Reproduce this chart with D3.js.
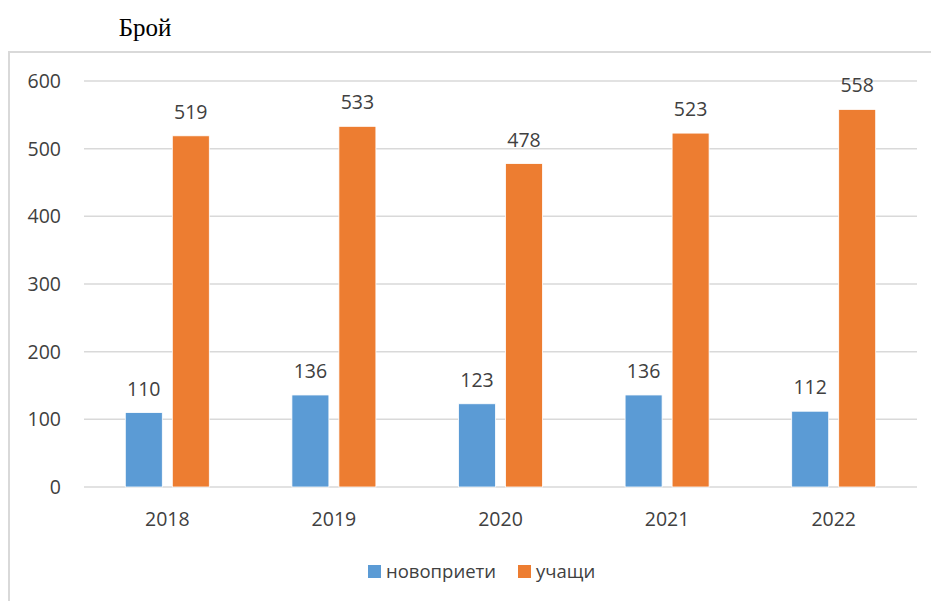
<!DOCTYPE html>
<html>
<head>
<meta charset="utf-8">
<script src="https://cdn.jsdelivr.net/npm/d3@7"></script>
<style>
  body { margin: 0; background: #fff; }
  text { font-family: "Open Sans", sans-serif; fill: #404040; }
</style>
</head>
<body>
<script>
var years = ["2018", "2019", "2020", "2021", "2022"];
var newcomers = [110, 136, 123, 136, 112];
var students = [519, 533, 478, 523, 558];
var seriesNames = ["новоприети", "учащи"];
var yTicks = [0, 100, 200, 300, 400, 500, 600];

const w = 931, h = 601;
const colors = ["#5b9bd5", "#ed7d31"];

const svg = d3.select("body")
              .append("svg")
              .attr("width", w)
              .attr("height", h);

// frame of the chart area
svg.append("path")
   .attr("d", "M9,601 L9,52 L931,52")
   .attr("fill", "none")
   .attr("stroke", "#d9d9d9")
   .attr("stroke-width", 2);

svg.append("text")
   .text("Брой")
   .attr("x", 145)
   .attr("y", 36)
   .attr("text-anchor", "middle")
   .style("font-family", "'Liberation Serif', serif")
   .style("font-size", "25px")
   .style("fill", "#000");

const xScale = d3.scaleBand()
                 .domain(years)
                 .range([84, 917]);

const yScale = d3.scaleLinear()
                 .domain([0, 600])
                 .range([487, 81]);

// gridlines
svg.append("g")
   .selectAll("line")
   .data(yTicks)
   .enter()
   .append("line")
   .attr("x1", 84)
   .attr("x2", 917)
   .attr("y1", d => yScale(d))
   .attr("y2", d => yScale(d))
   .attr("stroke", "#d9d9d9")
   .attr("stroke-width", 1.5);

// y axis labels
svg.append("g")
   .selectAll("text")
   .data(yTicks)
   .enter()
   .append("text")
   .text(d => d)
   .attr("x", 61)
   .attr("y", d => yScale(d) + 7)
   .attr("text-anchor", "end")
   .style("font-size", "19.5px");

// x axis labels
svg.append("g")
   .selectAll("text")
   .data(years)
   .enter()
   .append("text")
   .text(d => d)
   .attr("x", d => xScale(d) + xScale.bandwidth() / 2)
   .attr("y", 526)
   .attr("text-anchor", "middle")
   .style("font-size", "19.5px");

const barW = 37, gap = 10;
const series = [newcomers, students];

series.forEach(function(vals, s) {
    const offset = s === 0 ? -gap / 2 - barW : gap / 2;
    svg.append("g")
       .selectAll("rect")
       .data(vals)
       .enter()
       .append("rect")
       .attr("x", (d, i) => xScale(years[i]) + xScale.bandwidth() / 2 + offset)
       .attr("y", d => yScale(d))
       .attr("width", barW)
       .attr("height", d => yScale(0) - yScale(d))
       .attr("fill", colors[s])
       .attr("stroke", "#fff")
       .attr("stroke-width", 0.8);

    svg.append("g")
       .selectAll("text")
       .data(vals)
       .enter()
       .append("text")
       .text(d => d)
       .attr("x", (d, i) => xScale(years[i]) + xScale.bandwidth() / 2 + offset + barW / 2)
       .attr("y", d => yScale(d) - 17)
       .attr("text-anchor", "middle")
       .style("font-size", "19.5px");
});

// legend
var legend = svg.append("g");
var legendX = [368, 518];
seriesNames.forEach(function(name, i) {
    legend.append("rect")
          .attr("x", legendX[i])
          .attr("y", 565)
          .attr("width", 13)
          .attr("height", 13)
          .attr("fill", colors[i]);
    legend.append("text")
          .text(name)
          .attr("x", legendX[i] + 18)
          .attr("y", 578)
          .style("font-size", "18.5px");
});
</script>
</body>
</html>
